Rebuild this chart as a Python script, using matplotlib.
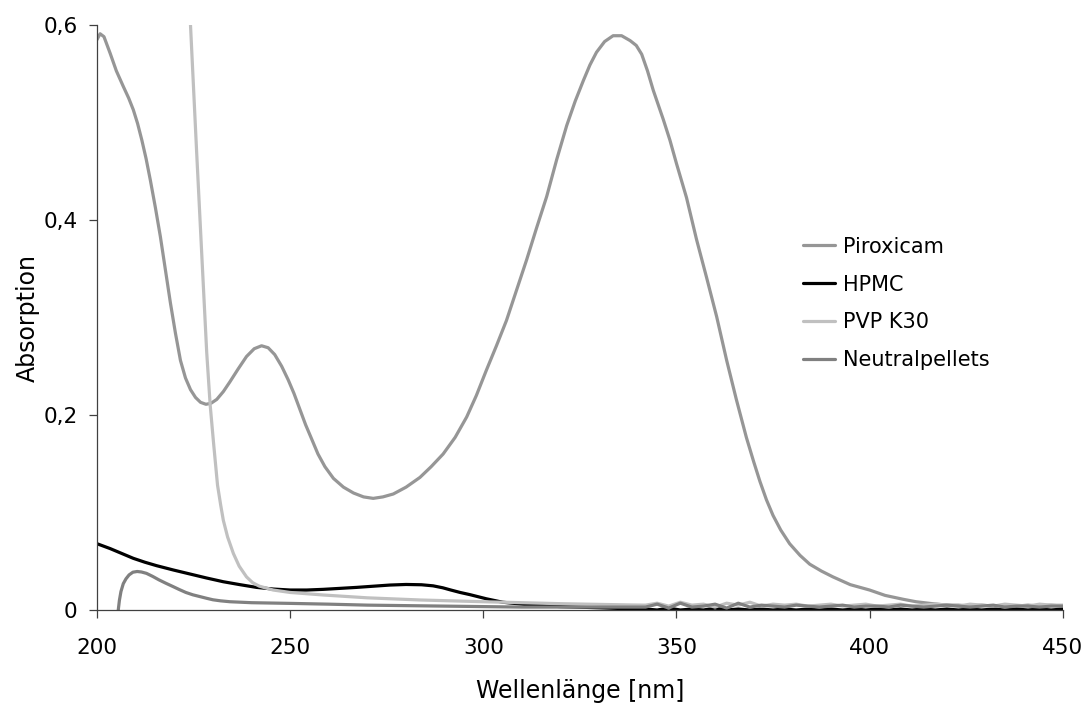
import matplotlib
matplotlib.use('Agg')
import matplotlib.pyplot as plt
from matplotlib.ticker import FuncFormatter

# UV spectra
tail_wl = [342, 345, 348, 351, 354, 357, 360, 363, 366, 369, 372, 375, 378, 381, 384,
           387, 390, 393, 396, 399, 402, 405, 408, 411, 414, 417, 420, 423, 426, 429,
           432, 435, 438, 441, 444, 447, 450]

piroxicam_wl = [200, 200.8, 201.8, 203.4, 205, 206.8, 208.2, 209.4, 210.5, 211.6, 212.7, 213.8,
                215.1, 216.4, 217.7, 219, 220.3, 221.6, 222.9, 224.2, 225.5, 226.8, 228.2, 229.5,
                231, 232.7, 234.4, 236.5, 238.7, 240.7, 242.6, 244.3, 246, 247.8, 249.5, 251,
                252.5, 254, 255.5, 257.2, 259, 261.2, 263.8, 266.4, 269, 271.5, 274, 276.7, 280,
                283.6, 286.5, 289.6, 292.7, 295.7, 298.2, 300.8, 303.4, 306, 308.6, 311.2, 313.8,
                316.4, 319, 321.6, 323.8, 325.9, 327.6, 329.3, 331.4, 333.6, 335.8, 338, 339.6,
                341, 342.5, 344, 346.6, 348.3, 350, 352.6, 355.2, 357.8, 360.4, 363, 365.5, 368.1,
                370, 371.6, 373.3, 375, 377, 379.3, 382, 384.5, 387.5, 390.5, 395, 400, 404, 408.7,
                412, 415.6, 420, 423, 426, 429, 432, 435, 438, 441, 444, 447, 450]
piroxicam = [0.585, 0.591, 0.588, 0.571, 0.553, 0.537, 0.525, 0.513, 0.499, 0.482, 0.463, 0.441,
             0.413, 0.383, 0.349, 0.315, 0.284, 0.256, 0.238, 0.226, 0.218, 0.213, 0.211, 0.212,
             0.216, 0.224, 0.234, 0.247, 0.26, 0.268, 0.271, 0.269, 0.262, 0.25, 0.236, 0.222,
             0.206, 0.19, 0.176, 0.16, 0.147, 0.135, 0.126, 0.12, 0.116, 0.1145, 0.116, 0.119, 0.126,
             0.136, 0.147, 0.16, 0.177, 0.198, 0.22, 0.246, 0.271, 0.297, 0.328, 0.359, 0.392,
             0.424, 0.462, 0.497, 0.522, 0.543, 0.559, 0.572, 0.583, 0.589, 0.589, 0.584, 0.579,
             0.57, 0.553, 0.533, 0.503, 0.482, 0.458, 0.423, 0.38, 0.341, 0.301, 0.256, 0.216, 0.177,
             0.152, 0.132, 0.113, 0.097, 0.082, 0.068, 0.056, 0.047, 0.04, 0.034, 0.026, 0.0205,
             0.015, 0.011, 0.0085, 0.0068, 0.005, 0.005, 0.004, 0.005, 0.004, 0.005, 0.004, 0.005,
             0.004, 0.005, 0.004]

hpmc_wl = [200, 203.4, 206.4, 209.4, 212.4, 215.4, 219.8, 224.1, 228.4, 232.7, 237, 241.3,
           245.6, 250, 254.3, 258.6, 262.9, 267.2, 271.5, 275.8, 280, 284, 287, 289.5, 291.6,
           294, 296.5, 300.8, 305, 311.2, 320, 330.7, 338] + tail_wl
hpmc_tail = [0.001, 0.0, 0.002, 0.0, 0.001, 0.0, 0.002, 0.0, 0.001, 0.0,
             0.001, 0.0, 0.001, 0.0, 0.001, 0.0, 0.001, 0.0, 0.001, 0.0,
             0.001, 0.0, 0.001, 0.0, 0.001, 0.0, 0.001, 0.0, 0.001, 0.0,
             0.001, 0.0, 0.001, 0.0, 0.001, 0.0, 0.001]
hpmc = [0.068, 0.063, 0.058, 0.053, 0.049, 0.0455, 0.041, 0.0369, 0.0328, 0.029, 0.026, 0.0232,
        0.0215, 0.0205, 0.0205, 0.0212, 0.0222, 0.0232, 0.0244, 0.0256, 0.0262, 0.0259, 0.0248,
        0.0228, 0.0205, 0.018, 0.0158, 0.0115, 0.008, 0.0055, 0.0035, 0.0022, 0.0012] + hpmc_tail

pvp_wl = [224.2, 225.8, 227.1, 228.4, 229.3, 230.2, 231.2, 232, 232.7, 233.8, 235.3, 236.8, 238.7,
          240.3, 242, 245.6, 250, 258.6, 270, 283.6, 300, 320, 338] + tail_wl
pvp_tail = [0.005, 0.007, 0.004, 0.008, 0.005, 0.006, 0.003, 0.007, 0.005, 0.008,
            0.004, 0.006, 0.005, 0.006, 0.004, 0.005, 0.006, 0.004, 0.005, 0.006,
            0.004, 0.005, 0.006, 0.004, 0.005, 0.006, 0.005, 0.004, 0.006, 0.005,
            0.004, 0.006, 0.005, 0.004, 0.006, 0.005, 0.005]
pvp = [0.6, 0.469, 0.366, 0.264, 0.21, 0.17, 0.128, 0.108, 0.092, 0.075, 0.058, 0.045, 0.034,
       0.028, 0.0245, 0.0205, 0.018, 0.0154, 0.0125, 0.0103, 0.0085, 0.0065, 0.0052] + pvp_tail

neutral_wl = [205.5, 205.8, 206.2, 206.8, 207.5, 208.3, 209.3, 210.4, 211.5, 212.8, 214.4, 216,
              217.8, 219.7, 221.3, 223, 224.8, 226.7, 228.4, 230, 232, 234.4, 240, 250, 260, 270,
              280, 290, 300, 310, 320, 330, 338] + tail_wl
neutral_tail = [0.003, 0.006, 0.002, 0.007, 0.003, 0.004, 0.006, 0.002, 0.007, 0.003,
                0.005, 0.004, 0.003, 0.005, 0.004, 0.003, 0.004, 0.005, 0.003, 0.004,
                0.004, 0.003, 0.005, 0.004, 0.003, 0.004, 0.005, 0.004, 0.003, 0.004,
                0.005, 0.003, 0.004, 0.004, 0.003, 0.004, 0.004]
neutral = [0.0, 0.01, 0.019, 0.027, 0.032, 0.036, 0.0388, 0.0395, 0.039, 0.0376, 0.0345, 0.031,
           0.0275, 0.024, 0.021, 0.018, 0.0156, 0.0137, 0.012, 0.0105, 0.0094, 0.0085, 0.0075,
           0.0068, 0.006, 0.005, 0.0045, 0.004, 0.0035, 0.003, 0.003, 0.003, 0.003] + neutral_tail

series = [
    ('Piroxicam', piroxicam_wl, piroxicam, '#969696'),
    ('HPMC', hpmc_wl, hpmc, '#000000'),
    ('PVP K30', pvp_wl, pvp, '#c0c0c0'),
    ('Neutralpellets', neutral_wl, neutral, '#808080'),
]

plt.rcParams['font.family'] = 'DejaVu Sans'

fig = plt.figure(figsize=(10.9, 7.08), dpi=100)
ax = fig.add_axes([0.089, 0.1384, 0.886, 0.8263])

for name, wl, vals, color in series:
    ax.plot(wl, vals, color=color, linewidth=2.3, label=name,
            solid_joinstyle='round', solid_capstyle='round')

ax.set_xlim(200, 450)
ax.set_ylim(0, 0.6)
ax.set_xticks([200, 250, 300, 350, 400, 450])
ax.set_yticks([0, 0.2, 0.4, 0.6])
ax.yaxis.set_major_formatter(FuncFormatter(
    lambda v, p: '0' if v == 0 else f'{v:.1f}'.replace('.', ',')))

for side in ['top', 'right']:
    ax.spines[side].set_visible(False)
for side in ['left', 'bottom']:
    ax.spines[side].set_color('#404040')
    ax.spines[side].set_linewidth(0.9)

ax.tick_params(axis='both', direction='out', length=6, width=0.9, color='#404040',
               labelsize=15.5)
ax.tick_params(axis='x', pad=14)
ax.tick_params(axis='y', pad=8)

ax.set_xlabel('Wellenlänge [nm]', fontsize=17)
ax.set_ylabel('Absorption', fontsize=17)
ax.xaxis.set_label_coords(0.5, -0.118)
ax.yaxis.set_label_coords(-0.059, 0.5)

ax.legend(loc='center left', bbox_to_anchor=(0.731, 0.524), frameon=False, fontsize=15,
          handlelength=1.55, handletextpad=0.35, labelspacing=0.86,
          borderpad=0, borderaxespad=0)

fig.savefig('out.png', dpi=100)
